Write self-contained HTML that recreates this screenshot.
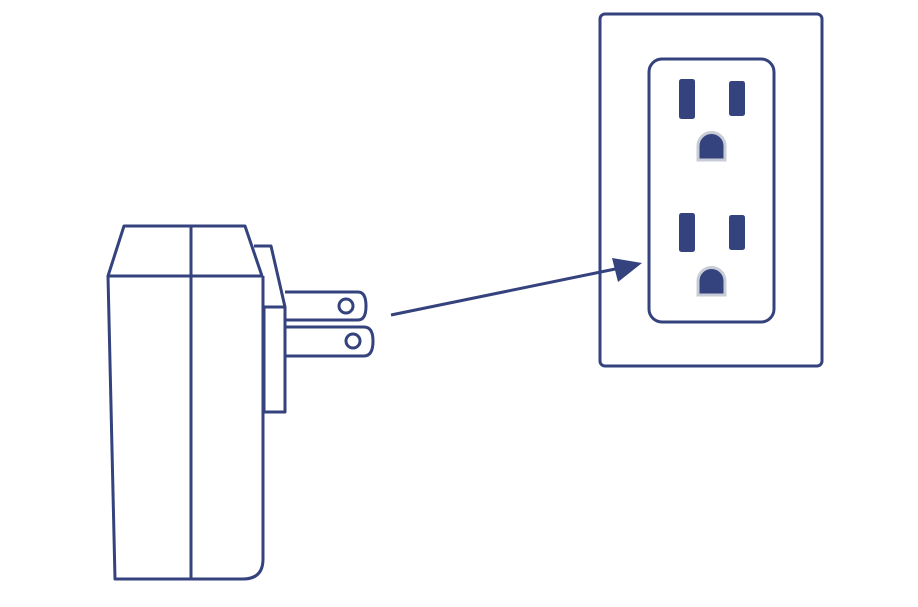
<!DOCTYPE html>
<html><head><style>html,body{margin:0;padding:0;background:#fff}</style></head>
<body>
<svg width="918" height="602" viewBox="0 0 918 602" xmlns="http://www.w3.org/2000/svg">
<g fill="none" stroke="#34427d" stroke-width="3" stroke-linejoin="round">
  <path d="M124,226 L245,226 L262,276 L108,276 Z"/>
  <path d="M108,276 L115,579 L243,579 Q263,579 263,559 L263,276"/>
  <line x1="191" y1="226" x2="191" y2="579"/>
  <path d="M254,246 L271,246 L285,307 L264,307 L264,412 L285,412 L285,307"/>
  <path d="M285,292 L358,292 Q366,292 366,306 Q366,320 358,320 L285,320"/>
  <circle cx="346" cy="306" r="7"/>
  <path d="M285,327 L364,327 Q373,327 373,341 Q373,356 364,356 L285,356"/>
  <circle cx="353" cy="341" r="7"/>
  <line x1="391" y1="315" x2="625" y2="267"/>
  <rect x="600" y="14" width="222" height="352" rx="5"/>
  <rect x="649" y="59" width="125" height="263" rx="13"/>
</g>
<polygon points="642,263 612,258 618,282" fill="#34427d"/>
<g fill="#34427d">
  <rect x="679" y="79" width="16" height="40" rx="2.5"/>
  <rect x="729" y="81" width="16" height="35" rx="2.5"/>
  <rect x="679" y="213" width="16" height="39" rx="2.5"/>
  <rect x="729" y="215" width="16" height="35" rx="2.5"/>
  <path d="M698,160 L698,146 A13.5,13.5 0 0 1 725,146 L725,160 Z" stroke="#c8ccd6" stroke-width="3"/>
  <path d="M698,295 L698,281 A13.5,13.5 0 0 1 725,281 L725,295 Z" stroke="#c8ccd6" stroke-width="3"/>
</g>
</svg>
</body></html>
